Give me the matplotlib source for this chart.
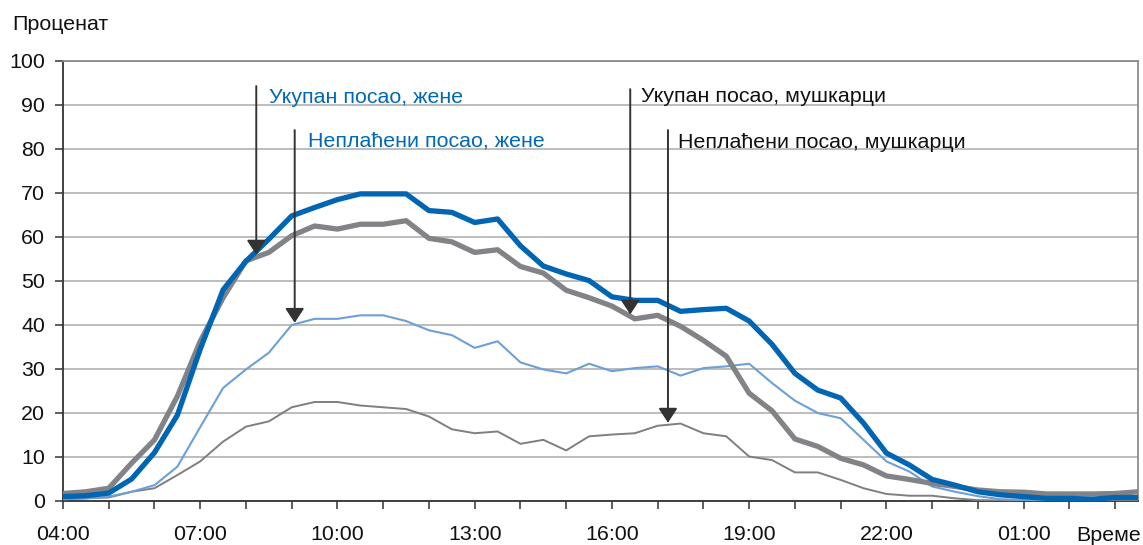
import matplotlib
matplotlib.use("Agg")
import matplotlib.pyplot as plt
import numpy as np

plt.rcParams['font.family'] = ['Liberation Sans', 'DejaVu Sans']

times = ["04:00", "04:30", "05:00", "05:30", "06:00", "06:30", "07:00", "07:30",
         "08:00", "08:30", "09:00", "09:30", "10:00", "10:30", "11:00", "11:30",
         "12:00", "12:30", "13:00", "13:30", "14:00", "14:30", "15:00", "15:30",
         "16:00", "16:30", "17:00", "17:30", "18:00", "18:30", "19:00", "19:30",
         "20:00", "20:30", "21:00", "21:30", "22:00", "22:30", "23:00", "23:30",
         "00:00", "00:30", "01:00", "01:30", "02:00", "02:30", "03:00", "03:30"]

total_women = [1, 1.2, 1.8, 5, 11, 19.5, 34.5, 48, 54.5, 59.5, 64.8, 66.7, 68.5, 69.8, 69.8, 69.8,
               66, 65.6, 63.3, 64.1, 58, 53.4, 51.6, 50.1, 46.4, 45.6, 45.6, 43.1, 43.5, 43.8, 40.9, 35.6,
               29, 25.2, 23.4, 17.7, 10.9, 8.2, 4.9, 3.6, 2.1, 1.4, 1, 0.6, 0.6, 0.4, 0.8, 0.8]
total_men = [1.7, 2.1, 2.9, 8.6, 13.9, 23.8, 36.3, 46.2, 54.6, 56.5, 60.3, 62.5, 61.8, 62.9, 62.9, 63.7,
             59.7, 58.9, 56.5, 57.1, 53.3, 51.8, 47.9, 46.2, 44.3, 41.4, 42.2, 39.7, 36.5, 32.9, 24.5, 20.5,
             14.1, 12.4, 9.7, 8.2, 5.7, 4.9, 4, 3.3, 2.5, 2.1, 2, 1.6, 1.6, 1.6, 1.7, 2.1]
unpaid_women = [0.4, 0.6, 1, 2.1, 3.6, 7.8, 16.8, 25.7, 29.9, 33.7, 40, 41.4, 41.4, 42.2, 42.2, 40.9,
                38.8, 37.7, 34.8, 36.3, 31.5, 29.9, 29, 31.2, 29.5, 30.2, 30.6, 28.5, 30.2, 30.6, 31.2, 26.8,
                22.8, 20, 18.8, 13.9, 9, 6.7, 3.3, 2.1, 1.1, 0.4, 0.2, 0.2, 0.4, 0.2, 0.6, 0.4]
unpaid_men = [0.4, 0.6, 0.8, 2.1, 2.9, 5.9, 9, 13.5, 16.9, 18.1, 21.3, 22.5, 22.5, 21.7, 21.3, 20.9,
              19.2, 16.3, 15.4, 15.8, 13, 13.9, 11.5, 14.7, 15.1, 15.4, 17.1, 17.6, 15.4, 14.7, 10.1, 9.3,
              6.5, 6.5, 4.8, 2.9, 1.6, 1.2, 1.2, 0.6, 0.2, 0.1, 0.1, 0.1, 0.1, 0.1, 0.1, 0.1]

tick_labels = ["04:00", "07:00", "10:00", "13:00", "16:00", "19:00", "22:00", "01:00"]

# annotations: label, text x, text baseline y, arrow x, arrow top, arrow tip, colour
annotations = [
    ("Укупан посао, жене", 9.0, 90.4, 8.45, 94.3, 56.0, "#0068B4"),
    ("Неплаћени посао, жене", 10.7, 80.5, 10.13, 84.3, 40.5, "#0068B4"),
    ("Укупан посао, мушкарци", 25.25, 90.6, 24.8, 93.6, 42.4, "#111111"),
    ("Неплаћени посао, мушкарци", 26.9, 80.3, 26.45, 84.3, 17.8, "#111111"),
]

fs = 15.4

fig = plt.figure(figsize=(11.43, 5.45), dpi=100)
ax = fig.add_axes([63/1143, 44/545, (1138-63)/1143, (501-61)/545])

x = np.arange(len(times))
ax.plot(x, unpaid_men, color="#7F7F7F", lw=1.4, zorder=3, solid_joinstyle='round')
ax.plot(x, unpaid_women, color="#6E9FD8", lw=1.5, zorder=3, solid_joinstyle='round')
ax.plot(x, total_men, color="#818386", lw=3.8, zorder=4, solid_joinstyle='round')
ax.plot(x, total_women, color="#0066B3", lw=3.8, zorder=5, solid_joinstyle='round')

ax.set_xlim(0, len(times) - 1)
ax.set_ylim(0, 100)
ax.set_yticks(np.arange(0, 101, 10))
ax.set_xticks(np.arange(0, len(times), 2))
lab_idx = [times.index(t) for t in tick_labels]
ax.set_xticklabels([times[i] if i in lab_idx else "" for i in range(0, len(times), 2)])

ax.grid(axis='y', color="#ABABAB", lw=1.1, zorder=1)
ax.set_axisbelow(True)
for s in ["left", "bottom"]:
    ax.spines[s].set_color("#333333")
    ax.spines[s].set_linewidth(1.3)
for s in ["top", "right"]:
    ax.spines[s].set_color("#8C8C8C")
    ax.spines[s].set_linewidth(1.3)
ax.tick_params(axis='both', colors="#333333", labelcolor="#111111", labelsize=fs,
               length=6, width=1.1, direction='out')
ax.tick_params(axis='y', pad=7)
ax.tick_params(axis='x', pad=11.5)

for label, tx, ty, ax_x, top, tip, col in annotations:
    ax.annotate("", xy=(ax_x, tip), xytext=(ax_x, top),
                arrowprops=dict(arrowstyle='-|>,head_length=0.35,head_width=0.23',
                                mutation_scale=25, color="#333333", lw=1.4,
                                shrinkA=0, shrinkB=0), zorder=6)
    ax.text(tx, ty, label, color=col, fontsize=fs, va='baseline', ha='left', zorder=7)

fig.text(12/1143, (545-30)/545, "Проценат", fontsize=fs, color="#111111", va='baseline', ha='left')
fig.text(1141/1143, (545-541)/545, "Време", fontsize=fs, color="#111111", va='baseline', ha='right')

fig.savefig("out.png", dpi=100)
